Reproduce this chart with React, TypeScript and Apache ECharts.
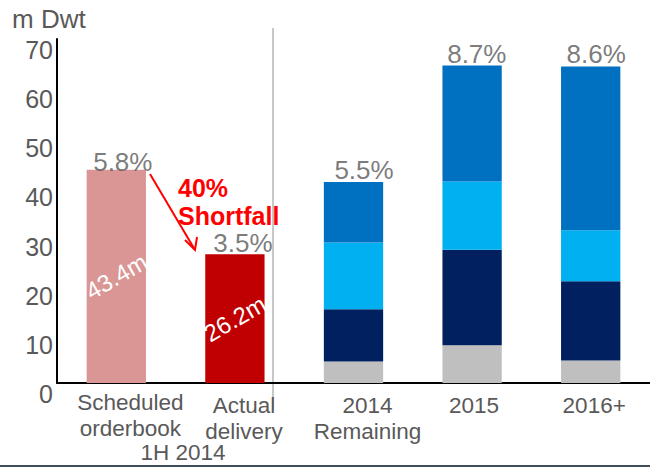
import React, { useEffect, useRef } from "react";
import * as echarts from "echarts";

// ---- data ----
const categories = ["Scheduled\norderbook", "Actual\ndelivery", "2014\nRemaining", "2015", "2016+"];
const orderbookValues = [43.4, 26.2, null, null, null];
const segGray = [null, null, 4.4, 7.7, 4.6];
const segNavy = [null, null, 10.6, 19.4, 16.1];
const segLightBlue = [null, null, 13.6, 13.9, 10.4];
const segBlue = [null, null, 12.3, 23.6, 33.3];
const pctLabels = ["5.8%", "3.5%", "5.5%", "8.7%", "8.6%"];
const groupLabel = "1H 2014";
const unitLabel = "m Dwt";
const shortfallLabel = "40%\nShortfall";

// ---- styles ----
const FONT = '"Liberation Sans", Arial, sans-serif';
const TEXT = "#595959";
const leftColors = ["#D99694", "#C00000"];
const pctOffsets = [[6.5, 6], [8, 2], [10.5, 1], [4.7, 2], [5.5, 1]];
const catLabelStyles = [
  { lineHeight: 25.5, padding: [0, 0, 0, 28] },
  { lineHeight: 25.5, padding: [3, 0, 0, 18] },
  { lineHeight: 25.5, padding: [3, 0, 0, 28] },
  { lineHeight: 25.5, padding: [3, 0, 0, 4] },
  { lineHeight: 25.5, padding: [3, 0, 0, 7] },
];

const toData = (arr: (number | null)[]) => arr.map((v) => (v == null ? "-" : v));

export default function App() {
  const ref = useRef<HTMLDivElement>(null);
  useEffect(() => {
    if (!ref.current) return;
    const chart = echarts.init(ref.current, null, { renderer: "svg" });
    const totals = categories.map(
      (_, i) =>
        (orderbookValues[i] || 0) +
        (segGray[i] || 0) +
        (segNavy[i] || 0) +
        (segLightBlue[i] || 0) +
        (segBlue[i] || 0)
    );
    const stackSeries = (name: string, arr: (number | null)[], color: string) => ({
      name,
      type: "bar",
      stack: "total",
      barWidth: "50%",
      data: toData(arr),
      itemStyle: { color },
    });
    chart.setOption({
      animation: false,
      textStyle: { fontFamily: FONT },
      grid: { left: 57, right: 0, top: 39, bottom: 84, containLabel: false },
      xAxis: {
        type: "category",
        data: categories.map((c, i) => ({ value: c, textStyle: catLabelStyles[i] })),
        axisLine: { show: true, lineStyle: { color: "#000", width: 2 } },
        axisTick: { show: false },
        axisLabel: {
          interval: 0,
          fontSize: 22.5,
          color: TEXT,
          margin: 7,
          fontFamily: FONT,
        },
      },
      yAxis: {
        type: "value",
        min: 0,
        max: 70,
        interval: 10,
        splitLine: { show: false },
        axisLine: { show: true, lineStyle: { color: "#000", width: 2 } },
        axisTick: { show: false },
        axisLabel: {
          fontSize: 25,
          color: TEXT,
          margin: 4,
          verticalAlign: "top",
          lineHeight: 22,
          fontFamily: FONT,
        },
      },
      series: [
        {
          name: "Orderbook",
          type: "bar",
          stack: "total",
          barWidth: "50%",
          data: orderbookValues.map((v, i) =>
            v == null ? "-" : { value: v, itemStyle: { color: leftColors[i] } }
          ),
          label: {
            show: true,
            position: "inside",
            rotate: 30,
            color: "#fff",
            fontSize: 24,
            fontFamily: FONT,
            formatter: (p: any) => `${p.value}m`,
          },
        },
        stackSeries("Other", segGray, "#BFBFBF"),
        stackSeries("Segment 1", segNavy, "#002060"),
        stackSeries("Segment 2", segLightBlue, "#00B0F0"),
        stackSeries("Segment 3", segBlue, "#0070C0"),
        {
          name: "pct",
          type: "scatter",
          symbolSize: 1,
          itemStyle: { color: "rgba(0,0,0,0)" },
          data: totals.map((t, i) => ({
            value: [i, t],
            label: { offset: pctOffsets[i] },
          })),
          label: {
            show: true,
            position: "top",
            distance: 0,
            fontSize: 26,
            lineHeight: 26,
            color: TEXT,
            fontFamily: FONT,
            formatter: (p: any) => pctLabels[p.dataIndex],
          },
          z: 5,
        },
      ],
      graphic: [
        {
          type: "text",
          left: 12,
          top: 6,
          style: { text: unitLabel, fontSize: 26, fill: TEXT, fontFamily: FONT },
        },
        {
          type: "line",
          shape: { x1: 273, y1: 28, x2: 273, y2: 410 },
          style: { stroke: "#C8C8C8", lineWidth: 2 },
          z: 0,
        },
        {
          type: "text",
          x: 183,
          y: 452,
          style: {
            text: groupLabel,
            fontSize: 22.5,
            fill: TEXT,
            fontFamily: FONT,
            textAlign: "center",
            textVerticalAlign: "middle",
          },
        },
        {
          type: "text",
          x: 178,
          y: 174,
          style: {
            text: shortfallLabel,
            fontSize: 25,
            lineHeight: 28,
            fontWeight: "bold",
            fill: "#FF0000",
            fontFamily: FONT,
          },
        },
        {
          type: "line",
          shape: { x1: 150, y1: 174, x2: 195, y2: 250 },
          style: { stroke: "#FF0000", lineWidth: 2 },
        },
        {
          type: "polyline",
          shape: { points: [[185, 240], [195, 250], [197, 237]] },
          style: { stroke: "#FF0000", lineWidth: 2, fill: "none" },
        },
        {
          type: "rect",
          shape: { x: 0, y: 465, width: 650, height: 2 },
          style: { fill: "#3E4F5A" },
        },
      ],
    });
    return () => chart.dispose();
  }, []);
  return (
    <div
      ref={ref}
      style={{ position: "absolute", left: 0, top: 0, width: 650, height: 467 }}
    />
  );
}
